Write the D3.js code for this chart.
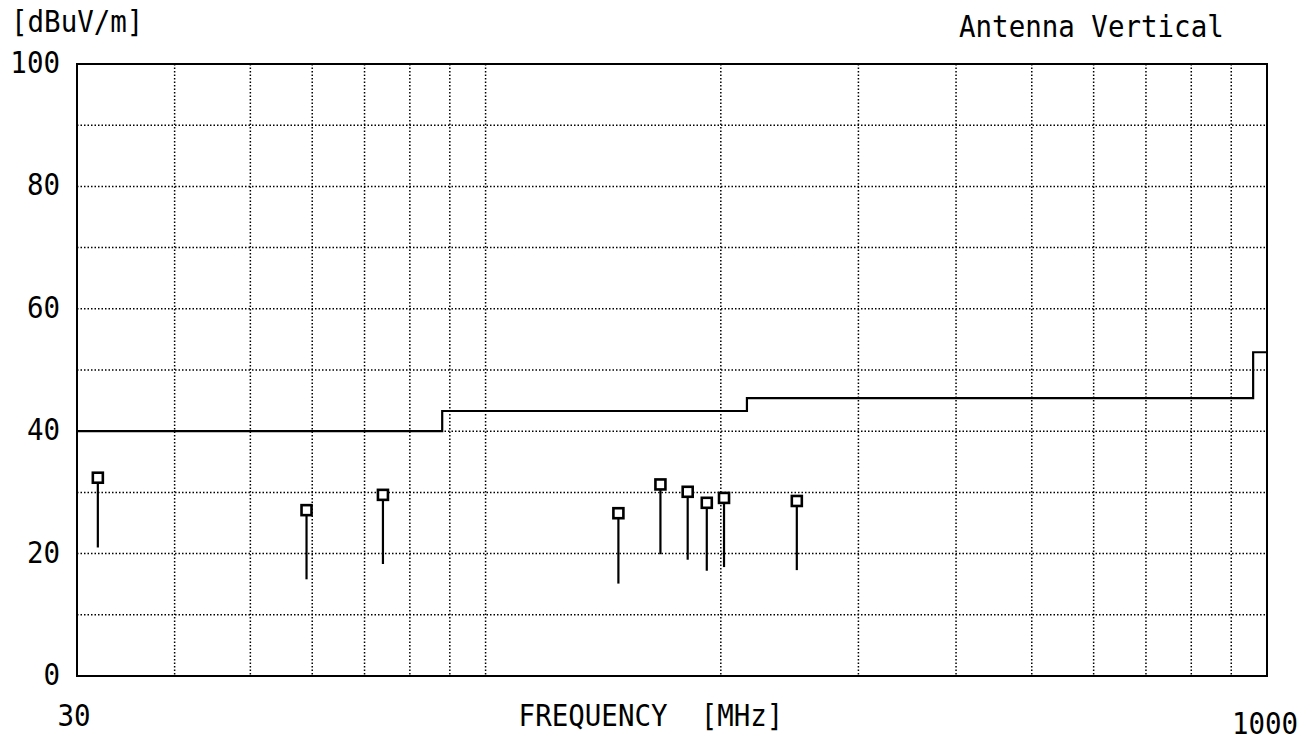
<!DOCTYPE html>
<html>
<head>
<meta charset="utf-8">
<script src="https://cdn.jsdelivr.net/npm/d3@7"></script>
<style>
  body { margin: 0; background: #fff; }
  text { font-family: "DejaVu Sans Mono", monospace; fill: #000; white-space: pre; }
</style>
</head>
<body>
<div class="chart"></div>
<script>
// limit line (step), frequency in MHz / level in dBuV/m
const limitFreq = [30, 88, 216, 960, 1000]
const limitLevel = [40, 43.3, 45.4, 52.9, 52.9]

// measured emissions: peak marker and lower end of stem
const peakFreq = [31.9, 59.0, 73.9, 147.9, 167.4, 181.4, 191.9, 201.9, 250.2]
const peakLevel = [32.4, 27.1, 29.6, 26.6, 31.3, 30.1, 28.3, 29.1, 28.6]
const lowLevel = [21.0, 15.8, 18.3, 15.1, 19.9, 19.0, 17.2, 17.8, 17.3]

const yTicks = [0, 20, 40, 60, 80, 100]
const yGrid = [10, 20, 30, 40, 50, 60, 70, 80, 90]
const xGrid = [40, 50, 60, 70, 80, 90, 100, 200, 300, 400, 500, 600, 700, 800, 900]

const W = 1310, H = 740
const plotL = 77, plotR = 1267, plotT = 64, plotB = 676

const svg = d3.select('.chart').append('svg')
    .attr('width', W)
    .attr('height', H)

const x = d3.scaleLog().domain([30, 1000]).range([plotL, plotR])
const y = d3.scaleLinear().domain([0, 100]).range([plotB, plotT])

// dotted grid
svg.append('g').selectAll('line').data(xGrid).join('line')
    .attr('x1', d => x(d)).attr('x2', d => x(d))
    .attr('y1', plotT).attr('y2', plotB)
    .attr('stroke', '#000').attr('stroke-width', 1.5)
    .attr('stroke-dasharray', '1.5,2')

svg.append('g').selectAll('line').data(yGrid).join('line')
    .attr('x1', plotL).attr('x2', plotR)
    .attr('y1', d => y(d)).attr('y2', d => y(d))
    .attr('stroke', '#000').attr('stroke-width', 1.5)
    .attr('stroke-dasharray', '1.5,2')

// frame
svg.append('rect')
    .attr('x', plotL).attr('y', plotT)
    .attr('width', plotR - plotL).attr('height', plotB - plotT)
    .attr('fill', 'none').attr('stroke', '#000').attr('stroke-width', 2)

// limit line
let limitData = limitFreq.map((f, i) => [f, limitLevel[i]])
let line = d3.line()
    .x(d => x(d[0]))
    .y(d => y(d[1]))
    .curve(d3.curveStepAfter)

svg.append('path')
    .datum(limitData)
    .attr('d', line)
    .attr('fill', 'none')
    .attr('stroke', '#000')
    .attr('stroke-width', 2.2)

// stems + markers
let peaks = peakFreq.map((f, i) => ({f: f, hi: peakLevel[i], lo: lowLevel[i]}))

svg.append('g').selectAll('line').data(peaks).join('line')
    .attr('x1', d => x(d.f)).attr('x2', d => x(d.f))
    .attr('y1', d => y(d.lo)).attr('y2', d => y(d.hi))
    .attr('stroke', '#000').attr('stroke-width', 2.2)

svg.append('g').selectAll('rect').data(peaks).join('rect')
    .attr('x', d => x(d.f) - 5)
    .attr('y', d => y(d.hi) - 5)
    .attr('width', 10).attr('height', 10)
    .attr('fill', '#fff').attr('stroke', '#000').attr('stroke-width', 2.6)

// text, scaled a little taller to look like the plotter font
function label(str, tx, ty, anchor) {
    svg.append('text')
        .attr('transform', 'translate(' + tx + ',' + ty + ') scale(1,1.1)')
        .attr('text-anchor', anchor || 'start')
        .attr('font-size', 27.5)
        .attr('xml:space', 'preserve')
        .text(str)
}

yTicks.forEach(t => label(String(t), 60, y(t) + 9, 'end'))

label('[dBuV/m]', 11, 32)
label('Antenna Vertical', 959, 37)
label('30', 74, 726, 'middle')
label('1000', 1265, 734, 'middle')
label('FREQUENCY  [MHz]', 651, 726, 'middle')
</script>
</body>
</html>
